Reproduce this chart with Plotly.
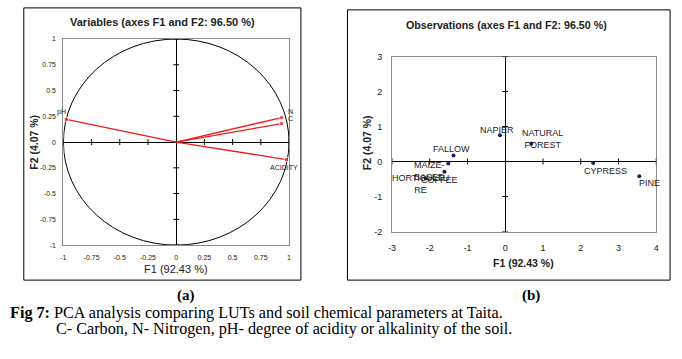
import plotly.graph_objects as go

# ---------------- data ----------------
var_names = ["pH", "N", "C", "ACIDITY"]
var_f1 = [-0.975, 0.935, 0.935, 0.977]
var_f2 = [0.22, 0.238, 0.18, -0.17]

obs_names = ["NAPIER", "NATURAL<br>FOREST", "FALLOW", "MAIZE-<br>BASED", "COFFEE",
             "HORTICULTU<br>RE", "CYPRESS", "PINE"]
obs_f1 = [-0.14, 0.69, -1.37, -1.51, -1.61, -2.11, 2.33, 3.55]
obs_f2 = [0.75, 0.51, 0.175, -0.06, -0.29, -0.48, -0.04, -0.42]

left_ticks = [-1, -0.75, -0.5, -0.25, 0, 0.25, 0.5, 0.75, 1]
left_ticktext = ["-1", "-0.75", "-0.5", "-0.25", "0", "0.25", "0.5", "0.75", "1"]
right_xticks = [-3, -2, -1, 0, 1, 2, 3, 4]
right_xticktext = ["-3", "-2", "-1", "0", "1", "2", "3", "4"]
right_yticks = [-2, -1, 0, 1, 2, 3]
right_yticktext = ["-2", "-1", "0", "1", "2", "3"]

W, H = 682, 359
SANS = "Liberation Sans, Arial, sans-serif"
SERIF = "Liberation Serif, Times New Roman, serif"


def px(x):
    return x / W


def py(y):
    return 1 - y / H


fig = go.Figure()

# ---------- left panel: variables ----------
for name, f1, f2 in zip(var_names, var_f1, var_f2):
    fig.add_trace(go.Scatter(
        x=[0, f1], y=[0, f2], mode="lines+markers",
        line=dict(color="#ee1c1c", width=1.3),
        marker=dict(symbol="square", size=[0, 4], color="#ee1c1c"),
        xaxis="x", yaxis="y", showlegend=False, hoverinfo="skip"))

var_label_shift = {"pH": (-5, 7), "N": (9, 6), "C": (9, 5), "ACIDITY": (-2, -8)}
for name, f1, f2 in zip(var_names, var_f1, var_f2):
    dx, dy = var_label_shift[name]
    fig.add_annotation(x=f1, y=f2, xref="x", yref="y", text=name, showarrow=False,
                       xshift=dx, yshift=dy, font=dict(family=SANS, size=7, color="#222"))

# ---------- right panel: observations ----------
fig.add_trace(go.Scatter(
    x=obs_f1, y=obs_f2, mode="markers",
    marker=dict(color="#1a1a6e", size=4),
    xaxis="x2", yaxis="y2", showlegend=False, hoverinfo="skip"))

obs_label_shift = [(-3, 5), (11, 5), (-2, 6), (-19, -7), (-5, -8), (-5, -6), (12, -8), (10, -7)]
for name, f1, f2, (dx, dy) in zip(obs_names, obs_f1, obs_f2, obs_label_shift):
    fig.add_annotation(x=f1, y=f2, xref="x2", yref="y2", text=name, showarrow=False,
                       xshift=dx, yshift=dy, font=dict(family=SANS, size=9, color="#222"))

# ---------- axes ----------
L_x = [px(60), px(288)]
L_y = [py(247), py(35)]
R_x = [px(392), px(659)]
R_y = [py(233), py(53)]

axis_common = dict(showgrid=False, showline=True, mirror=True, linecolor="#8c8c8c",
                   linewidth=1, zeroline=True, zerolinecolor="black", zerolinewidth=1,
                   ticks="", tickfont=dict(family=SANS, size=7, color="#222"),
                   fixedrange=True)

fig.update_layout(
    width=W, height=H, margin=dict(l=0, r=0, t=0, b=0),
    paper_bgcolor="white", plot_bgcolor="white",
    xaxis=dict(domain=L_x, anchor="y", range=[-1, 1], tickmode="array",
               tickvals=left_ticks, ticktext=left_ticktext, ticklabelstandoff=5,
               **axis_common),
    yaxis=dict(domain=L_y, anchor="x", range=[-1, 1], tickmode="array",
               tickvals=left_ticks, ticktext=left_ticktext, ticklabelstandoff=5,
               **axis_common),
    xaxis2=dict(domain=R_x, anchor="y2", range=[-3, 4], tickmode="array",
                tickvals=right_xticks, ticktext=right_xticktext, ticklabelstandoff=8,
                **{**axis_common, "tickfont": dict(family=SANS, size=9, color="#222")}),
    yaxis2=dict(domain=R_y, anchor="x2", range=[-2, 3], tickmode="array",
                tickvals=right_yticks, ticktext=right_yticktext, ticklabelstandoff=7,
                **{**axis_common, "tickfont": dict(family=SANS, size=9, color="#222")}),
)

shapes = []
# correlation circle
shapes.append(dict(type="circle", xref="x", yref="y", x0=-1, y0=-1, x1=1, y1=1,
                   line=dict(color="black", width=1), layer="below"))
# tick marks crossing the zero lines
for v in left_ticks:
    if v != 0:
        shapes.append(dict(type="line", xref="x", yref="y", ysizemode="pixel", yanchor=0,
                           x0=v, x1=v, y0=-3, y1=3, line=dict(color="black", width=1)))
        shapes.append(dict(type="line", xref="x", yref="y", xsizemode="pixel", xanchor=0,
                           y0=v, y1=v, x0=-3, x1=3, line=dict(color="black", width=1)))
for v in right_xticks:
    if v != 0:
        shapes.append(dict(type="line", xref="x2", yref="y2", ysizemode="pixel", yanchor=0,
                           x0=v, x1=v, y0=-3, y1=3, line=dict(color="black", width=1)))
for v in right_yticks:
    if v != 0:
        shapes.append(dict(type="line", xref="x2", yref="y2", xsizemode="pixel", xanchor=0,
                           y0=v, y1=v, x0=-3, x1=3, line=dict(color="black", width=1)))
# panel frames
shapes.append(dict(type="rect", xref="paper", yref="paper", x0=px(20), x1=px(300),
                   y0=py(283), y1=py(3), line=dict(color="black", width=1)))
shapes.append(dict(type="rect", xref="paper", yref="paper", x0=px(347), x1=px(673),
                   y0=py(283), y1=py(5), line=dict(color="black", width=1)))
fig.update_layout(shapes=shapes)


def text(x, y, s, size, family=SANS, angle=0, xanchor="center", color="#222"):
    fig.add_annotation(x=px(x), y=py(y), xref="paper", yref="paper", text=s,
                       showarrow=False, xanchor=xanchor, yanchor="middle", textangle=angle,
                       font=dict(family=family, size=size, color=color))


# titles
text(160, 17, "<b>Variables (axes F1 and F2: 96.50 %)</b>", 11)
text(508, 21, "<b>Observations (axes F1 and F2: 96.50 %)</b>", 10.7)
# axis titles
text(174, 272, "F1 (92.43 %)", 11)
text(30, 141, "<b>F2 (4.07 %)</b>", 10.5, angle=-90)
text(525, 265, "<b>F1 (92.43 %)</b>", 10.5)
text(367, 142, "<b>F2 (4.07 %)</b>", 10.5, angle=-90)

# caption
text(184, 299, "<b>(a)</b>", 15, family=SERIF, color="black")
text(532, 299, "<b>(b)</b>", 15, family=SERIF, color="black")
text(4, 317, "<b>Fig 7:</b> PCA analysis comparing LUTs and soil chemical parameters at Taita.",
     16.2, family=SERIF, xanchor="left", color="black")
text(51, 333, "C- Carbon, N- Nitrogen, pH- degree of acidity or alkalinity of the soil.",
     16.2, family=SERIF, xanchor="left", color="black")

fig.write_html("out.html", config={"displayModeBar": False},
               post_script="document.body.style.margin='0';document.body.style.overflow='hidden';")
